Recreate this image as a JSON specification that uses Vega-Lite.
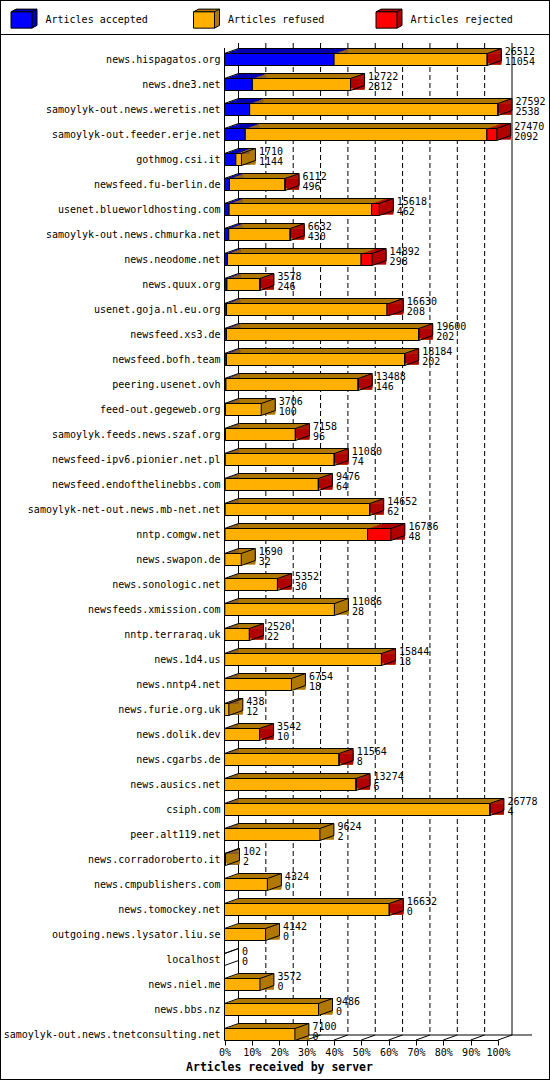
{
  "$schema": "https://vega.github.io/schema/vega-lite/v6.json",
  "width": 550,
  "height": 1080,
  "autosize": "none",
  "padding": 0,
  "background": "white",
  "config": {
    "font": "DejaVu Sans Mono",
    "view": {"stroke": "black", "strokeWidth": 2},
    "axisY": {
      "offset": -224.5,
      "domain": false,
      "ticks": false,
      "tickSize": 0,
      "grid": false,
      "labelPadding": 4.5,
      "labelLimit": 400,
      "labelFont": "DejaVu Sans Mono",
      "labelFontSize": 10,
      "labelColor": "black",
      "title": null
    },
    "axisX": {
      "offset": -40,
      "grid": false,
      "domainColor": "black",
      "tickColor": "black",
      "tickSize": 5,
      "labelFont": "DejaVu Sans Mono",
      "labelFontSize": 10,
      "labelColor": "black",
      "labelPadding": 2,
      "labelOverlap": false,
      "labelFlush": false,
      "titleFont": "DejaVu Sans Mono",
      "titleFontSize": 11.5,
      "titleFontWeight": "bold",
      "titleColor": "black",
      "titleX": 279,
      "titleY": 27,
      "titleAlign": "center",
      "titleBaseline": "middle"
    }
  },
  "datasets": {
    "srv": [
      {"server": "news.hispagatos.org", "offered": 26512, "acc": 11054, "ref": 15448, "rej": 10},
      {"server": "news.dne3.net", "offered": 12722, "acc": 2812, "ref": 9900, "rej": 10},
      {"server": "samoylyk-out.news.weretis.net", "offered": 27592, "acc": 2538, "ref": 25042, "rej": 12},
      {"server": "samoylyk-out.feeder.erje.net", "offered": 27470, "acc": 2092, "ref": 24378, "rej": 1000},
      {"server": "gothmog.csi.it", "offered": 1710, "acc": 1144, "ref": 566, "rej": 0},
      {"server": "newsfeed.fu-berlin.de", "offered": 6112, "acc": 496, "ref": 5606, "rej": 10},
      {"server": "usenet.blueworldhosting.com", "offered": 15618, "acc": 462, "ref": 14376, "rej": 780},
      {"server": "samoylyk-out.news.chmurka.net", "offered": 6632, "acc": 430, "ref": 6192, "rej": 10},
      {"server": "news.neodome.net", "offered": 14892, "acc": 298, "ref": 13484, "rej": 1110},
      {"server": "news.quux.org", "offered": 3578, "acc": 246, "ref": 3322, "rej": 10},
      {"server": "usenet.goja.nl.eu.org", "offered": 16630, "acc": 208, "ref": 16192, "rej": 230},
      {"server": "newsfeed.xs3.de", "offered": 19600, "acc": 202, "ref": 19388, "rej": 10},
      {"server": "newsfeed.bofh.team", "offered": 18184, "acc": 202, "ref": 17972, "rej": 10},
      {"server": "peering.usenet.ovh", "offered": 13488, "acc": 146, "ref": 13332, "rej": 10},
      {"server": "feed-out.gegeweb.org", "offered": 3706, "acc": 100, "ref": 3606, "rej": 0},
      {"server": "samoylyk.feeds.news.szaf.org", "offered": 7158, "acc": 96, "ref": 7052, "rej": 10},
      {"server": "newsfeed-ipv6.pionier.net.pl", "offered": 11080, "acc": 74, "ref": 10996, "rej": 10},
      {"server": "newsfeed.endofthelinebbs.com", "offered": 9476, "acc": 64, "ref": 9402, "rej": 10},
      {"server": "samoylyk-net-out.news.mb-net.net", "offered": 14652, "acc": 62, "ref": 14580, "rej": 10},
      {"server": "nntp.comgw.net", "offered": 16786, "acc": 48, "ref": 14388, "rej": 2350},
      {"server": "news.swapon.de", "offered": 1690, "acc": 32, "ref": 1658, "rej": 0},
      {"server": "news.sonologic.net", "offered": 5352, "acc": 30, "ref": 5312, "rej": 10},
      {"server": "newsfeeds.xmission.com", "offered": 11086, "acc": 28, "ref": 11058, "rej": 0},
      {"server": "nntp.terraraq.uk", "offered": 2520, "acc": 22, "ref": 2488, "rej": 10},
      {"server": "news.1d4.us", "offered": 15844, "acc": 18, "ref": 15816, "rej": 10},
      {"server": "news.nntp4.net", "offered": 6754, "acc": 18, "ref": 6736, "rej": 0},
      {"server": "news.furie.org.uk", "offered": 438, "acc": 12, "ref": 426, "rej": 0},
      {"server": "news.dolik.dev", "offered": 3542, "acc": 10, "ref": 3522, "rej": 10},
      {"server": "news.cgarbs.de", "offered": 11564, "acc": 8, "ref": 11546, "rej": 10},
      {"server": "news.ausics.net", "offered": 13274, "acc": 6, "ref": 13258, "rej": 10},
      {"server": "csiph.com", "offered": 26778, "acc": 4, "ref": 26764, "rej": 10},
      {"server": "peer.alt119.net", "offered": 9624, "acc": 2, "ref": 9622, "rej": 0},
      {"server": "news.corradoroberto.it", "offered": 102, "acc": 2, "ref": 100, "rej": 0},
      {"server": "news.cmpublishers.com", "offered": 4324, "acc": 0, "ref": 4324, "rej": 0},
      {"server": "news.tomockey.net", "offered": 16632, "acc": 0, "ref": 16622, "rej": 10},
      {"server": "outgoing.news.lysator.liu.se", "offered": 4142, "acc": 0, "ref": 4142, "rej": 0},
      {"server": "localhost", "offered": 0, "acc": 0, "ref": 0, "rej": 0},
      {"server": "news.niel.me", "offered": 3572, "acc": 0, "ref": 3572, "rej": 0},
      {"server": "news.bbs.nz", "offered": 9486, "acc": 0, "ref": 9486, "rej": 0},
      {"server": "samoylyk-out.news.tnetconsulting.net", "offered": 7100, "acc": 0, "ref": 7100, "rej": 0}
    ],
    "ticks": [
      {"t": 0}, {"t": 2759.2}, {"t": 5518.4}, {"t": 8277.6}, {"t": 11036.8}, {"t": 13796},
      {"t": 16555.2}, {"t": 19314.4}, {"t": 22073.6}, {"t": 24832.8}, {"t": 27592}
    ]
  },
  "layer": [
    {
      "data": {"name": "ticks"},
      "mark": {"type": "point", "shape": "M0,-0.0165V0.9755", "size": 4000000, "filled": false, "stroke": "black", "strokeWidth": 1, "opacity": 1, "xOffset": 14},
      "encoding": {
        "x": {
          "field": "t",
          "type": "quantitative",
          "scale": {"domain": [0, 27592], "range": [224.5, 498], "nice": false},
          "axis": {
            "title": "Articles received by server",
            "values": [0, 2759.2, 5518.4, 8277.6, 11036.8, 13796, 16555.2, 19314.4, 22073.6, 24832.8, 27592],
            "labelExpr": "round(datum.value / 275.92) + '%'"
          }
        },
        "y": {
          "datum": "news.hispagatos.org",
          "type": "nominal",
          "scale": {
            "domain": [
              "news.hispagatos.org", "news.dne3.net", "samoylyk-out.news.weretis.net", "samoylyk-out.feeder.erje.net",
              "gothmog.csi.it", "newsfeed.fu-berlin.de", "usenet.blueworldhosting.com", "samoylyk-out.news.chmurka.net",
              "news.neodome.net", "news.quux.org", "usenet.goja.nl.eu.org", "newsfeed.xs3.de", "newsfeed.bofh.team",
              "peering.usenet.ovh", "feed-out.gegeweb.org", "samoylyk.feeds.news.szaf.org", "newsfeed-ipv6.pionier.net.pl",
              "newsfeed.endofthelinebbs.com", "samoylyk-net-out.news.mb-net.net", "nntp.comgw.net", "news.swapon.de",
              "news.sonologic.net", "newsfeeds.xmission.com", "nntp.terraraq.uk", "news.1d4.us", "news.nntp4.net",
              "news.furie.org.uk", "news.dolik.dev", "news.cgarbs.de", "news.ausics.net", "csiph.com", "peer.alt119.net",
              "news.corradoroberto.it", "news.cmpublishers.com", "news.tomockey.net", "outgoing.news.lysator.liu.se",
              "localhost", "news.niel.me", "news.bbs.nz", "samoylyk-out.news.tnetconsulting.net"
            ],
            "range": [47, 1047],
            "paddingInner": 0,
            "paddingOuter": 0
          }
        },
        "strokeDash": {
          "condition": {"test": "datum.t == 0 || datum.t == 27592", "value": [1, 0]},
          "value": [5, 3]
        }
      }
    },
    {
      "data": {"name": "ticks"},
      "mark": {"type": "point", "shape": "M0,0.393L1,0.0357", "size": 784, "filled": false, "stroke": "black", "strokeWidth": 1, "opacity": 1},
      "encoding": {
        "x": {"field": "t", "type": "quantitative"},
        "y": {"datum": "samoylyk-out.news.tnetconsulting.net", "type": "nominal"}
      }
    },
    {
      "data": {"name": "ticks"},
      "transform": [{"filter": "datum.t == 0"}],
      "layer": [
        {
          "mark": {"type": "point", "shape": "M0,-0.0115V0.9805", "size": 4000000, "filled": false, "stroke": "black", "strokeWidth": 1, "opacity": 1},
          "encoding": {
            "x": {"field": "t", "type": "quantitative"},
            "y": {"datum": "news.hispagatos.org", "type": "nominal"}
          }
        },
        {
          "mark": {"type": "point", "shape": "M0.014,0.0005H0.3075", "size": 4000000, "filled": false, "stroke": "black", "strokeWidth": 1, "opacity": 1},
          "encoding": {
            "x": {"field": "t", "type": "quantitative"},
            "y": {"datum": "samoylyk-out.news.tnetconsulting.net", "type": "nominal"}
          }
        },
        {
          "mark": {"type": "point", "shape": "M-0.2245,-0.025H0.3255", "size": 4000000, "filled": false, "stroke": "black", "strokeWidth": 1, "opacity": 1},
          "encoding": {
            "x": {"field": "t", "type": "quantitative"},
            "y": {"datum": "news.hispagatos.org", "type": "nominal"}
          }
        }
      ]
    },
    {
      "data": {"name": "srv"},
      "transform": [
        {"fold": ["acc", "ref", "rej"], "as": ["cat", "n"]},
        {"stack": "n", "groupby": ["server"], "sort": [{"field": "cat", "order": "ascending"}], "as": ["n0", "n1"]},
        {"filter": "datum.n > 0"}
      ],
      "encoding": {
        "y": {"field": "server", "type": "nominal"},
        "fill": {
          "field": "cat",
          "type": "nominal",
          "scale": {"domain": ["acc", "ref", "rej"], "range": ["#0000b0", "#b07800", "#b00000"]},
          "legend": {
            "title": null,
            "orient": "none",
            "legendX": 10.5,
            "legendY": 6.5,
            "direction": "horizontal",
            "columns": 3,
            "gridAlign": "all",
            "columnPadding": 42.5,
            "padding": 0,
            "symbolType": "M-1,-0.654L-0.6,-0.864H1V0.39L0.615,0.6V-0.654ZM0.615,-0.654L1,-0.864",
            "symbolSize": 676,
            "symbolStrokeWidth": 1,
            "symbolStrokeColor": "black",
            "labelOffset": 8,
            "labelFontSize": 10,
            "labelFont": "DejaVu Sans Mono",
            "labelOpacity": 0,
            "labelExpr": "datum.label == 'acc' ? 'Articles accepted' : datum.label == 'ref' ? 'Articles refused' : 'Articles rejected'"
          }
        }
      },
      "layer": [
        {
          "mark": {"type": "bar", "height": 12, "xOffset": 14, "x2Offset": 14, "yOffset": -5},
          "encoding": {"x": {"field": "n0", "type": "quantitative"}, "x2": {"field": "n1"}}
        },
        {
          "mark": {"type": "bar", "height": 12, "xOffset": 11.67, "x2Offset": 14, "yOffset": -4.17},
          "encoding": {"x": {"field": "n0", "type": "quantitative"}, "x2": {"field": "n1"}}
        },
        {
          "mark": {"type": "bar", "height": 12, "xOffset": 9.33, "x2Offset": 14, "yOffset": -3.33},
          "encoding": {"x": {"field": "n0", "type": "quantitative"}, "x2": {"field": "n1"}}
        },
        {
          "mark": {"type": "bar", "height": 12, "xOffset": 7, "x2Offset": 14, "yOffset": -2.5},
          "encoding": {"x": {"field": "n0", "type": "quantitative"}, "x2": {"field": "n1"}}
        },
        {
          "mark": {"type": "bar", "height": 12, "xOffset": 4.67, "x2Offset": 14, "yOffset": -1.67},
          "encoding": {"x": {"field": "n0", "type": "quantitative"}, "x2": {"field": "n1"}}
        },
        {
          "mark": {"type": "bar", "height": 12, "xOffset": 2.33, "x2Offset": 14, "yOffset": -0.83},
          "encoding": {"x": {"field": "n0", "type": "quantitative"}, "x2": {"field": "n1"}}
        },
        {
          "mark": {"type": "bar", "height": 9.5, "x2Offset": 14, "yOffset": -1.25},
          "encoding": {"x": {"field": "n1", "type": "quantitative"}, "x2": {"field": "n1"}}
        }
      ]
    },
    {
      "data": {"name": "srv"},
      "transform": [
        {"fold": ["acc", "ref", "rej"], "as": ["cat", "n"]},
        {"stack": "n", "groupby": ["server"], "sort": [{"field": "cat", "order": "ascending"}], "as": ["n0", "n1"]},
        {"filter": "datum.n > 0"}
      ],
      "mark": {"type": "bar", "height": 1, "xOffset": 14, "x2Offset": 14, "yOffset": -11, "color": "black"},
      "encoding": {
        "y": {"field": "server", "type": "nominal"},
        "x": {"field": "n0", "type": "quantitative"},
        "x2": {"field": "n1"}
      }
    },
    {
      "data": {"name": "srv"},
      "encoding": {"y": {"field": "server", "type": "nominal"}},
      "layer": [
        {
          "mark": {"type": "point", "shape": "M0,-0.4286L1,-0.7857L1,0.0714L0,0.4286", "size": 784, "filled": false, "stroke": "black", "strokeWidth": 1, "opacity": 1},
          "encoding": {"x": {"field": "offered", "type": "quantitative"}}
        },
        {
          "mark": {"type": "point", "shape": "M0,-0.4286L1,-0.7857", "size": 784, "filled": false, "stroke": "black", "strokeWidth": 1, "opacity": 1},
          "encoding": {"x": {"datum": 0, "type": "quantitative"}}
        }
      ]
    },
    {
      "data": {"name": "srv"},
      "transform": [
        {"fold": ["acc", "ref", "rej"], "as": ["cat", "n"]},
        {"stack": "n", "groupby": ["server"], "sort": [{"field": "cat", "order": "ascending"}], "as": ["n0", "n1"]},
        {"filter": "datum.n > 0"}
      ],
      "mark": {"type": "bar", "height": 12, "stroke": "black", "strokeWidth": 1},
      "encoding": {
        "y": {"field": "server", "type": "nominal"},
        "x": {"field": "n0", "type": "quantitative"},
        "x2": {"field": "n1"},
        "fill": {
          "field": "cat",
          "type": "nominal",
          "scale": {"domain": ["acc", "ref", "rej"], "range": ["#0000ff", "#ffb000", "#ff0000"]},
          "legend": {
            "title": null,
            "orient": "none",
            "legendX": 10.5,
            "legendY": 6.5,
            "direction": "horizontal",
            "columns": 3,
            "gridAlign": "all",
            "columnPadding": 42.5,
            "padding": 0,
            "symbolType": "M-1,-0.654H0.615V0.6H-1Z",
            "symbolSize": 676,
            "symbolStrokeWidth": 1,
            "symbolStrokeColor": "black",
            "labelOffset": 8,
            "labelFontSize": 10,
            "labelFont": "DejaVu Sans Mono",
            "labelColor": "black",
            "labelExpr": "datum.label == 'acc' ? 'Articles accepted' : datum.label == 'ref' ? 'Articles refused' : 'Articles rejected'"
          }
        }
      }
    },
    {
      "data": {"name": "srv"},
      "mark": {"type": "text", "align": "left", "baseline": "alphabetic", "dx": 17.5, "dy": -5, "fontSize": 10, "font": "DejaVu Sans Mono", "fill": "black"},
      "encoding": {
        "y": {"field": "server", "type": "nominal"},
        "x": {"field": "offered", "type": "quantitative"},
        "text": {"field": "offered", "type": "nominal"}
      }
    },
    {
      "data": {"name": "srv"},
      "mark": {"type": "text", "align": "left", "baseline": "alphabetic", "dx": 17.5, "dy": 5.5, "fontSize": 10, "font": "DejaVu Sans Mono", "fill": "black"},
      "encoding": {
        "y": {"field": "server", "type": "nominal"},
        "x": {"field": "offered", "type": "quantitative"},
        "text": {"field": "acc", "type": "nominal"}
      }
    }
  ],
  "resolve": {"scale": {"fill": "independent"}, "legend": {"fill": "independent"}}
}
